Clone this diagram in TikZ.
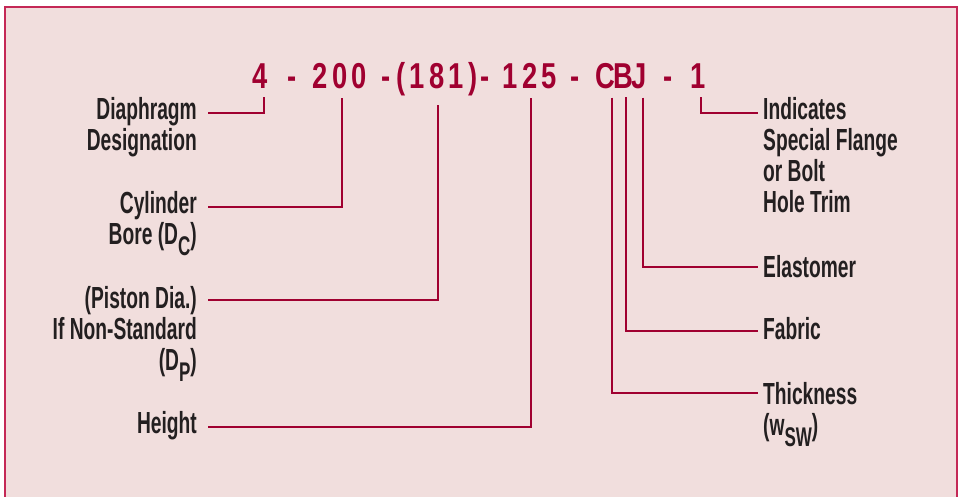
\documentclass[tikz,border=0pt]{standalone}
\usepackage{fontspec}
\setmainfont{Liberation Sans}
\newfontfamily\labelfont{Liberation Sans Bold}[FakeStretch=0.63]
\newfontfamily\codefont{Liberation Sans Bold}[FakeStretch=0.76,LetterSpace=12]
\usetikzlibrary{positioning}
\definecolor{leadred}{RGB}{160,0,48}
\definecolor{framered}{RGB}{196,40,86}
\definecolor{pinkbg}{RGB}{241,222,221}
\definecolor{labelgray}{RGB}{35,31,32}
\newcommand\lowsub[1]{\raisebox{-11pt}{\fontsize{27}{27}\selectfont #1}}

\begin{document}
\begin{tikzpicture}[x=1pt,y=-1pt,
    lead/.style={leadred,line width=2.6pt},
    code/.style={text=leadred,font=\codefont\fontsize{36}{36}\selectfont,inner sep=0pt,anchor=base},
    lbl/.style={text=labelgray,font=\labelfont\fontsize{30.5}{31}\selectfont,inner sep=0pt}]
  \useasboundingbox (0,0) rectangle (961,496);
  \clip (0,0) rectangle (961,496);
  \fill[white] (0,0) rectangle (961,496);
  \fill[pinkbg] (5,7) rectangle (957,520);
  \draw[framered,line width=1.6pt] (5,520) -- (5,7) -- (957,7) -- (957,520);

  % part number
  \node[code] (n4)   at (260,88) {4};
  \node[code] (d1)   at (292,88) {-};
  \node[code] (n200) at (340,88) {200};
  \node[code] (d2)   at (386,88) {-};
  \node[code] (n181) at (437,88) {(181)};
  \node[code] (d3)   at (485,88) {-};
  \node[code] (n125) at (530,88) {125};
  \node[code] (d4)   at (575,88) {-};
  \node[code] (nC)   at (605,88) {C};
  \node[code] (nB)   at (623,88) {B};
  \node[code] (nJ)   at (639,88) {J};
  \node[code] (d5)   at (668,88) {-};
  \node[code] (n1)   at (698,88) {1};

  % left side (base = last line)
  \node[lbl,align=right,anchor=base east] (diaph)  at (197,150) {Diaphragm\\Designation};
  \node[lbl,align=right,anchor=base east] (cyl)    at (197,244) {Cylinder\\Bore (D\lowsub{C})};
  \node[lbl,align=right,anchor=base east] (piston) at (197,370) {(Piston Dia.)\\If Non-Standard\\(D\lowsub{P})};
  \node[lbl,anchor=base east]             (height) at (197,433) {Height};

  % right side
  \node[lbl,align=left,anchor=base west] (indic)  at (763,212) {Indicates\\Special Flange\\or Bolt\\Hole Trim};
  \node[lbl,anchor=base west]            (elast)  at (763,277) {Elastomer};
  \node[lbl,anchor=base west]            (fabric) at (763,339) {Fabric};
  \node[lbl,align=left,anchor=base west] (thick)  at (763,435) {Thickness\\(w\lowsub{SW})};

  \draw[lead,shorten >=9pt] ([shift={(11pt,37pt)}]diaph.base east) -| ([xshift=4pt]n4.south);
  \draw[lead,shorten >=9pt] ([shift={(11pt,37pt)}]cyl.base east) -| ([xshift=2pt]n200.south);
  \draw[lead,shorten >=9pt] ([shift={(11pt,70pt)}]piston.base east) -| ([xshift=1pt]n181.south);
  \draw[lead,shorten >=9pt] ([shift={(11pt,6pt)}]height.base east) -| ([xshift=1pt]n125.south);
  \draw[lead,shorten <=9pt] ([xshift=3pt]n1.south) |- ([shift={(-5pt,99pt)}]indic.base west);
  \draw[lead,shorten <=9pt] ([xshift=4pt]nJ.south) |- ([shift={(-5pt,10pt)}]elast.base west);
  \draw[lead,shorten <=9pt] ([xshift=3pt]nB.south) |- ([shift={(-5pt,8pt)}]fabric.base west);
  \draw[lead,shorten <=9pt] ([xshift=7pt]nC.south) |- ([shift={(-5pt,42pt)}]thick.base west);
\end{tikzpicture}
\end{document}
